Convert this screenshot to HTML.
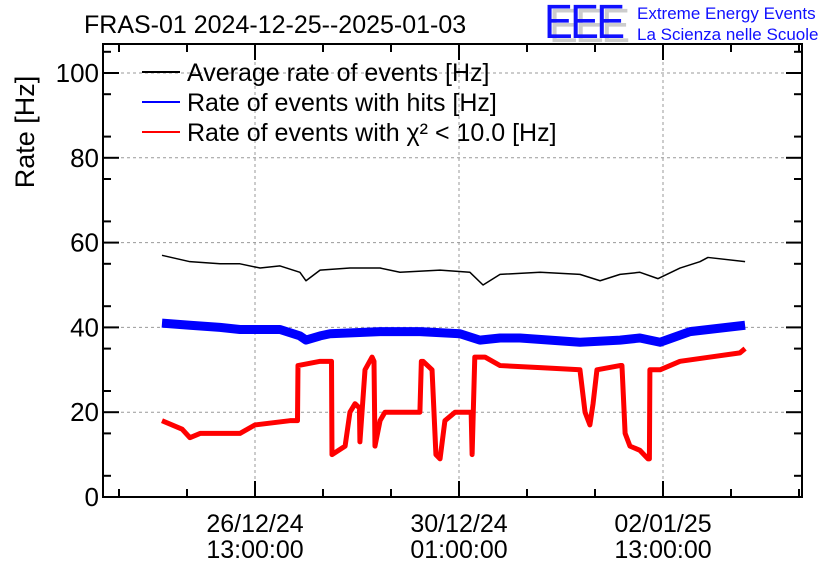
<!DOCTYPE html>
<html><head><meta charset="utf-8"><style>
body{margin:0;background:#fff;}
svg{display:block;font-family:"Liberation Sans",sans-serif;}
</style></head><body>
<svg id="c" width="836" height="572" xmlns="http://www.w3.org/2000/svg">
<rect width="836" height="572" fill="#fff"/>
<text x="84" y="33" font-size="25">FRAS-01 2024-12-25--2025-01-03</text>
<g>
<text x="549" y="42" font-size="48" fill="#ccc" transform="translate(549,0) scale(0.9,1) translate(-549,0)" letter-spacing="-3">EEE</text>
<text x="544" y="38" font-size="48" fill="#1010ff" transform="translate(544,0) scale(0.9,1) translate(-544,0)" letter-spacing="-3">EEE</text>
<text x="637" y="19" font-size="17" fill="#1010ff">Extreme Energy Events</text>
<text x="637" y="40" font-size="17" fill="#1010ff">La Scienza nelle Scuole</text>
</g>
<text transform="translate(34,132) rotate(-90)" text-anchor="middle" font-size="27">Rate [Hz]</text>
<g id="grid"></g><g id="series"></g><g id="axes"></g><g id="legend"></g>
</svg>
<script>
// data
const blackT=[-38.3,-26.8,-14.4,-6.2,2.1,10.3,18.5,21,26.8,39.1,51.5,59.7,76.2,88.5,93.9,100.9,117.4,133.8,142.1,150.3,158.5,165.9,175,183.2,186.5,201.8];
const blackV=[57,55.5,55,55,54,54.5,53,51,53.5,54,54,53,53.5,53,50,52.5,53,52.5,51,52.5,53,51.5,54,55.5,56.5,55.5];
const blueT=[-38.3,-26.8,-14.4,-6.2,10.3,18.5,21,26.8,30.9,51.5,67.9,84.4,92.6,100.9,109.1,133.8,150.3,158.5,166.8,179.1,201.8];
const blueV=[41,40.5,40,39.5,39.5,38,37,38,38.5,39,39,38.5,37,37.5,37.5,36.5,37,37.5,36.5,39,40.5];
const redT=[-38.3,-30,-26.8,-22.6,-6.2,0,14.4,17.5,17.7,26.8,31.5,31.7,37.1,39.1,41.2,43,43.2,45.3,48.2,49,49.4,51.5,53.5,67.9,68.5,69.2,72.9,74.5,76.2,78.2,82.4,87.7,89,89.4,90.5,91,94.7,100.9,117.4,133.8,135.9,137.9,139.2,140.8,150.3,151.1,152.4,154.4,158.5,161.8,162.4,162.6,166.8,175,187.4,199.7,201.8];
const redV=[18,16,14,15,15,17,18,18,31,32,32,10,12,20,22,21,13,30,33,32,12,18,20,20,32,32,30,10,9,18,20,20,20,10,33,33,33,31,30.5,30,20,17,22,30,31,31,15,12,11,9,9,30,30,32,33,34,35];
const yTicks=[0,20,40,60,80,100];
const xMajorT=[0,84,168];
const xMajorLab=[["26/12/24","13:00:00"],["30/12/24","01:00:00"],["02/01/25","13:00:00"]];
const xMinorStep=28;
const legendLabels=["Average rate of events [Hz]","Rate of events with hits [Hz]","Rate of events with \u03C7\u00B2 < 10.0 [Hz]"];
const legendColors=["#000","#00f","#f00"];

const L=103,R=802,T=44,B=497;
const X=t=>255+t*(408/168);
const Y=v=>B-v*4.24;
const NS="http://www.w3.org/2000/svg";
function mk(tag,attrs,parent){const e=document.createElementNS(NS,tag);for(const k in attrs)e.setAttribute(k,attrs[k]);parent.appendChild(e);return e;}
const grid=document.getElementById('grid'),axes=document.getElementById('axes'),ser=document.getElementById('series'),leg=document.getElementById('legend');
yTicks.forEach(v=>{
  const g=mk('line',{x1:L,x2:R,y1:Y(v),y2:Y(v),stroke:'#999','stroke-dasharray':'3,3','stroke-width':1},grid);
  
  
  const t=mk('text',{x:L-4,y:Y(v)+9,'text-anchor':'end','font-size':26},axes);
  t.textContent=v;
  
  
  mk('line',{x1:L,x2:L+16,y1:Y(v),y2:Y(v),stroke:'#000','stroke-width':2},axes);
  mk('line',{x1:R,x2:R-16,y1:Y(v),y2:Y(v),stroke:'#000','stroke-width':2},axes);
});
for(let v=5;v<106;v+=10){mk('line',{x1:L,x2:L+8,y1:Y(v),y2:Y(v),stroke:'#000','stroke-width':2},axes);mk('line',{x1:R,x2:R-8,y1:Y(v),y2:Y(v),stroke:'#000','stroke-width':2},axes);}
xMajorT.forEach((t,i)=>{
  const g=mk('line',{x1:X(t),x2:X(t),y1:T,y2:B,stroke:'#999','stroke-dasharray':'3,3','stroke-width':1},grid);
  
  
  xMajorLab[i].forEach((s,j)=>{const e=mk('text',{x:X(t),y:532+j*26,'text-anchor':'middle','font-size':25},axes);e.textContent=s;
  
  });
});
for(let t=-56;X(t)<R;t+=xMinorStep){if(X(t)<=L)continue;const maj=xMajorT.includes(t);const h=maj?16:8;
 mk('line',{x1:X(t),x2:X(t),y1:B,y2:B-h,stroke:'#000','stroke-width':2},axes);mk('line',{x1:X(t),x2:X(t),y1:T,y2:T+h,stroke:'#000','stroke-width':2},axes);}
const fr=mk('rect',{x:L,y:T,width:R-L,height:B-T,fill:'none',stroke:'#000','stroke-width':2},axes);


function line(ts,vs,col,w,name){const p=mk('polyline',{points:ts.map((t,i)=>X(t)+','+Y(vs[i])).join(' '),fill:'none',stroke:col,'stroke-width':w,'stroke-linejoin':'round'},ser);
 
 }
line(blueT,blueV,'#00f',9,'hits-rate-series');
line(redT,redV,'#f00',5,'chi2-rate-series');
line(blackT,blackV,'#000',1.5,'average-rate-series');
legendLabels.forEach((s,i)=>{const y=72+i*30;
 mk('line',{x1:142,x2:180,y1:y,y2:y,stroke:legendColors[i],'stroke-width':2},leg);
 const e=mk('text',{x:187,y:y+9,'font-size':25},leg);e.textContent=s;
 
 });
</script>
</body></html>
